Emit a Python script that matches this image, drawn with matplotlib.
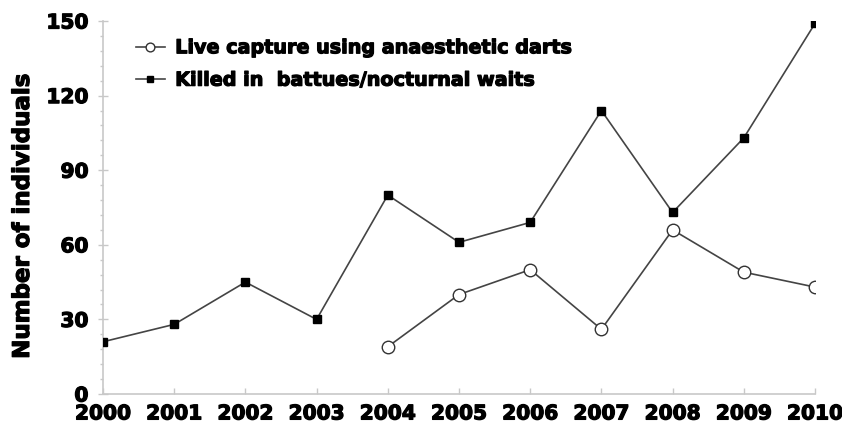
import matplotlib
matplotlib.use("Agg")
import matplotlib.pyplot as plt
import matplotlib.patheffects as pe
from matplotlib.ticker import MultipleLocator

years = [2000, 2001, 2002, 2003, 2004, 2005, 2006, 2007, 2008, 2009, 2010]
killed = [21, 28, 45, 30, 80, 61, 69, 114, 73, 103, 149]
live_years = [2004, 2005, 2006, 2007, 2008, 2009, 2010]
live = [19, 40, 50, 26, 66, 49, 43]
yticks = [0, 30, 60, 90, 120, 150]

plt.rcParams['font.family'] = ['DejaVu Sans']
plt.rcParams['font.weight'] = 'bold'

heavy = [pe.withStroke(linewidth=0.9, foreground='black')]

fig = plt.figure(figsize=(8.42, 4.27), dpi=100)
ax = fig.add_axes([103/842, 32/427, (815-103)/842, (395-22)/427])

line_c = '#444444'
ax.plot(live_years, live, '-', color=line_c, lw=1.2, marker='o', ms=9,
        mfc='white', mec='#333333', mew=1.0, label='Live capture using anaesthetic darts', zorder=3)
ax.plot(years, killed, '-', color=line_c, lw=1.2, marker='s', ms=5.5,
        mfc='black', mec='black', label='Killed in  battues/nocturnal waits', zorder=3)

ax.set_xlim(2000, 2010)
ax.set_ylim(0, 150)
ax.set_xticks(years)
ax.set_xticklabels([str(y) for y in years])
ax.set_yticks(yticks)
ax.yaxis.set_minor_locator(MultipleLocator(6))

for s in ['top', 'right']:
    ax.spines[s].set_visible(False)
for s in ['left', 'bottom']:
    ax.spines[s].set_color('#c8c8c8')
    ax.spines[s].set_linewidth(1.2)
    ax.spines[s].set_zorder(1)

ax.tick_params(axis='y', which='major', direction='inout', length=7, width=1, color='#c8c8c8',
               labelsize=14.5, pad=7)
ax.tick_params(axis='y', which='minor', direction='out', length=2.5, width=1, color='#c8c8c8')
ax.tick_params(axis='x', which='major', direction='in', length=4, width=1, color='#c8c8c8',
               labelsize=14.5, pad=7.5)
for lab in ax.get_xticklabels() + ax.get_yticklabels():
    lab.set_fontweight('bold')
    lab.set_path_effects(heavy)

yl = ax.set_ylabel('Number of individuals', fontsize=16.5, fontweight='bold')
yl.set_path_effects(heavy)
ax.yaxis.set_label_coords(-0.097, 0.475)

leg = ax.legend(loc='upper left', bbox_to_anchor=(0.022, 1.0), frameon=False,
                prop={'weight': 'bold', 'size': 13.8}, handlelength=1.5, handletextpad=0.55,
                labelspacing=0.7, markerscale=0.7)
for t in leg.get_texts():
    t.set_path_effects(heavy)

fig.savefig('out.png', dpi=100)
